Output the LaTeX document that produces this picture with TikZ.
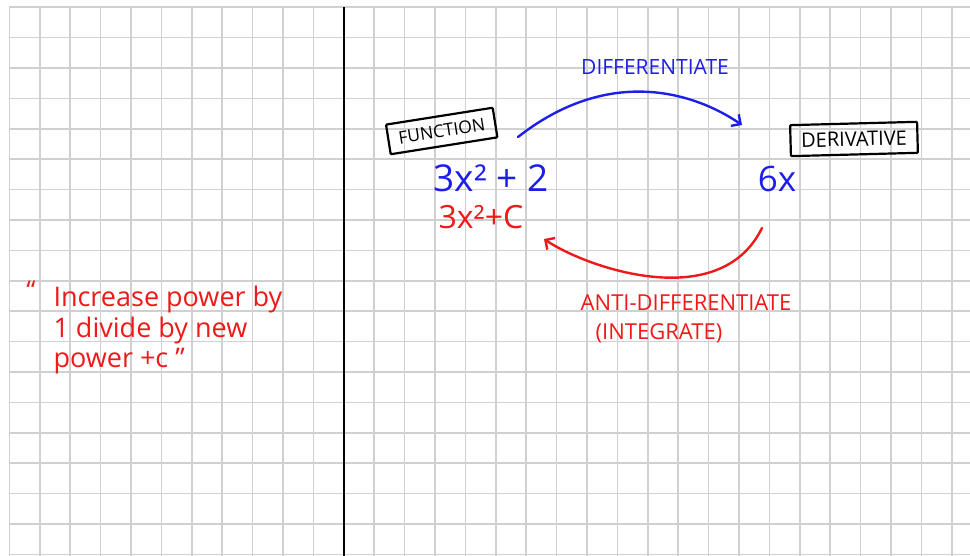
\documentclass[tikz,border=0pt]{standalone}
\usepackage{fontspec}
\setmainfont{Open Sans}
\usetikzlibrary{arrows.meta}
\definecolor{penblue}{RGB}{30,30,235}
\definecolor{penred}{RGB}{240,25,25}
\definecolor{gridgray}{RGB}{208,208,208}

\tikzset{
  pen/.style={line width=2.4pt, line cap=round},
  penhead/.style={-{Straight Barb[length=7pt, width=14pt]}},
  tag/.style={draw, line width=2.2pt, rounded corners=1pt, minimum height=31pt, inner sep=0pt, font=\fontsize{17.5}{17.5}\selectfont},
  bluecaps/.style={penblue, font=\fontsize{21}{21}\selectfont},
  redcaps/.style={penred, font=\fontsize{22}{22}\selectfont},
}

\begin{document}
\begin{tikzpicture}[x=1pt, y=1pt]
\useasboundingbox (0,0) rectangle (970,556);
% squared paper
\foreach \i in {0,...,31}
  \draw[gridgray, line width=1.6pt] ({9.3+30.4*\i},0) -- ({9.3+30.4*\i},548.7);
\foreach \j in {0,...,18}
  \draw[gridgray, line width=1.6pt] (9.3,{548.7-30.4*\j}) -- (970,{548.7-30.4*\j});
% page divider
\draw[line width=1.8pt] (343.7,0) -- (343.7,548.7);

% left page: the rule
\node[penred, font=\fontsize{26}{30}\selectfont] (quoteopen) at (31,266) {“};
\node[penred, anchor=west, align=left, font=\fontsize{27}{30.5}\selectfont] (rule) at (50,226) {Increase power by\\1 divide by new\\power +c ”};

% right page: boxes
\node[tag, minimum width=108pt, minimum height=30pt, rotate=9] (func) at (441.7,425) {FUNCTION};
\node[tag, minimum width=127pt, rotate=1.5, font=\fontsize{20}{20}\selectfont] (deriv) at (854,417) {DERIVATIVE};

% formulas
\node[penblue, font=\fontsize{37}{37}\selectfont] (poly) at (491,378) {3x² + 2};
\node[penred, font=\fontsize{32}{32}\selectfont] (prim) at (481,339) {3x²+C};
\node[penblue, font=\fontsize{35}{35}\selectfont] (slope) at (777,377) {6x};

% labels
\node[bluecaps] (difflbl) at (655,489) {DIFFERENTIATE};
\node[redcaps] (antilbl) at (686,253) {ANTI-DIFFERENTIATE};
\node[redcaps] (intlbl) at (659,223) {(INTEGRATE)};

% arrows
\coordinate (dstart) at (518,419);
\coordinate (dend) at (742,431);
\draw[pen, penblue, penhead] (dstart) .. controls (610,491) and (695,463) .. (dend);
\coordinate (astart) at (762,328);
\coordinate (aend) at (544,317);
\draw[pen, penred, penhead] (astart) .. controls (720,242) and (587,288) .. (aend);
\end{tikzpicture}
\end{document}
